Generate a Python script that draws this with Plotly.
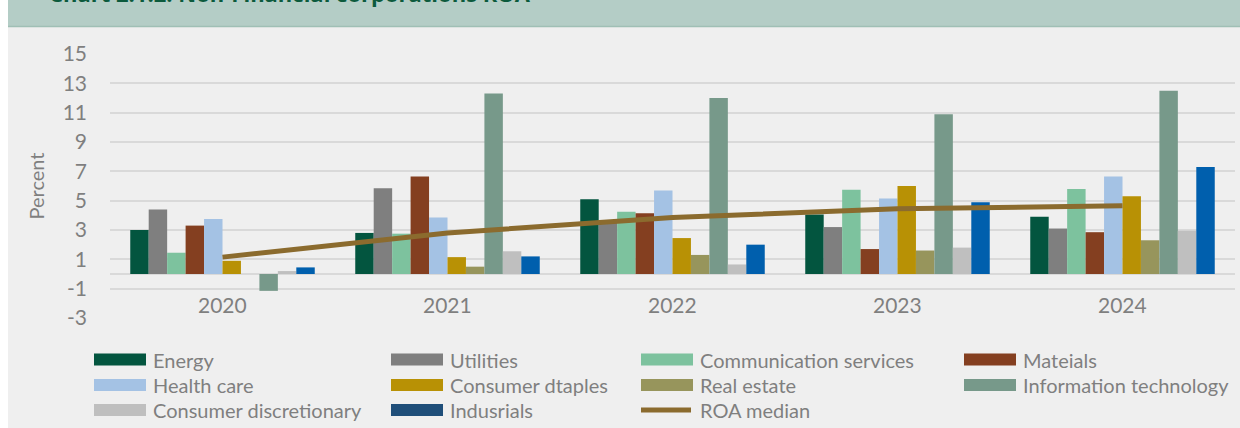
import plotly.graph_objects as go

# ---------------- data ----------------
years = ["2020", "2021", "2022", "2023", "2024"]
energy = [3.0, 2.8, 5.1, 4.05, 3.9]
utilities = [4.4, 5.85, 3.5, 3.2, 3.1]
communication_services = [1.45, 2.75, 4.25, 5.75, 5.8]
materials = [3.3, 6.65, 4.15, 1.7, 2.85]
health_care = [3.75, 3.85, 5.7, 5.15, 6.65]
consumer_staples = [0.9, 1.15, 2.45, 6.0, 5.3]
real_estate = [0.0, 0.5, 1.3, 1.6, 2.3]
information_technology = [-1.15, 12.3, 12.0, 10.9, 12.5]
consumer_discretionary = [0.2, 1.55, 0.65, 1.8, 2.95]
industrials = [0.45, 1.2, 2.0, 4.9, 7.3]
roa_median = [1.15, 2.8, 3.85, 4.45, 4.65]

series_names = ["Energy", "Utilities", "Communication services", "Mateials",
                "Health care", "Consumer dtaples", "Real estate",
                "Information technology", "Consumer discretionary", "Indusrials"]
legend_names = ["Energy", "Utilities", "Communication services", "Mateials",
                "Health care", "Consumer dtaples", "Real estate", "Information technology",
                "Consumer discretionary", "Indusrials", "ROA median"]
series_values = [energy, utilities, communication_services, materials, health_care,
                 consumer_staples, real_estate, information_technology,
                 consumer_discretionary, industrials]
y_tick_values = [-3, -1, 1, 3, 5, 7, 9, 11, 13, 15]
y_tick_labels = ["-3", "-1", "1", "3", "5", "7", "9", "11", "13", "15"]
category_label_level = -2.07

# ---------------- styles ----------------
bar_colors = ["#03553f", "#7f7f7f", "#7dc29e", "#843f20", "#a4c2e4",
              "#b89105", "#97955c", "#77998a", "#bfbfbf", "#005fad"]
legend_colors = ["#03553f", "#7f7f7f", "#7dc29e", "#843f20", "#a4c2e4",
                 "#b89105", "#97955c", "#77998a", "#bfbfbf", "#1f4e79", "#8b6b2e"]
line_color = "#8b6b2e"
bg = "#efefef"
grid = "#d9d9d9"
txt = "#7f7f7f"
FONT = "Lato"

W, H = 1240, 428
ML, MR, MT, MB = 110, 5, 54, 110
PW, PH = W - ML - MR, H - MT - MB


def px_x(px):
    return (px - ML) / PW


def px_y(py):
    return (H - MB - py) / PH


fig = go.Figure()
for name, vals, col in zip(series_names, series_values, bar_colors):
    fig.add_trace(go.Bar(x=years, y=vals, name=name, marker_color=col,
                         marker_line_width=0, showlegend=False))
fig.add_trace(go.Scatter(x=years, y=roa_median, name="ROA median", mode="lines",
                         line=dict(color=line_color, width=5), showlegend=False))

shapes = []
annotations = []
# background panel and header band
shapes.append(dict(type="rect", xref="paper", yref="paper", x0=px_x(8), x1=px_x(W + 5),
                   y0=px_y(H + 5), y1=px_y(-5), fillcolor=bg, line_width=0, layer="below"))
shapes.append(dict(type="rect", xref="paper", yref="paper", x0=px_x(8), x1=px_x(W + 5),
                   y0=px_y(26), y1=px_y(-5), fillcolor="#b4cdc6", line_width=0, layer="below"))
shapes.append(dict(type="line", xref="paper", yref="paper", x0=px_x(8), x1=px_x(W + 5),
                   y0=px_y(26.5), y1=px_y(26.5), line=dict(color="#9fbfb5", width=1.5), layer="below"))
annotations.append(dict(text="<b>Chart 2.1.2: Non-Financial corporations ROA</b>",
                        xref="paper", yref="paper", x=px_x(47), y=px_y(10.5),
                        xanchor="left", yanchor="bottom", showarrow=False,
                        font=dict(family="Open Sans", size=22, color="#0b5a3c")))

# category labels sitting between the -1 and -3 gridlines (category index positions)
for idx, yr in enumerate(years):
    annotations.append(dict(text=yr, x=idx, y=category_label_level, xref="x", yref="y",
                            xanchor="center", yanchor="middle", showarrow=False,
                            font=dict(family=FONT, size=21, color=txt)))

# custom legend (4 columns x 3 rows)
col_x = [94, 391, 641, 964]
row_y = [359.5, 385, 410]
sw_w, sw_h = 52, 12
for i, (name, col) in enumerate(zip(legend_names, legend_colors)):
    r, c = divmod(i, 4)
    x0 = col_x[c]
    yc = row_y[r]
    if name == "ROA median":
        shapes.append(dict(type="line", xref="paper", yref="paper",
                           x0=px_x(x0), x1=px_x(x0 + 50), y0=px_y(yc), y1=px_y(yc),
                           line=dict(color=col, width=5)))
    else:
        shapes.append(dict(type="rect", xref="paper", yref="paper",
                           x0=px_x(x0), x1=px_x(x0 + sw_w),
                           y0=px_y(yc + sw_h / 2), y1=px_y(yc - sw_h / 2),
                           fillcolor=col, line_width=0))
    annotations.append(dict(text=name, xref="paper", yref="paper",
                            x=px_x(x0 + 57), y=px_y(yc), xanchor="left", yanchor="middle",
                            showarrow=False, font=dict(family=FONT, size=20, color=txt)))

fig.update_layout(
    width=W, height=H,
    margin=dict(l=ML, r=MR, t=MT, b=MB, pad=0),
    paper_bgcolor="white", plot_bgcolor=bg,
    barmode="group", bargap=0.18, bargroupgap=0,
    shapes=shapes, annotations=annotations,
    font=dict(family=FONT, color=txt),
    showlegend=False,
)
fig.update_xaxes(type="category", range=[-0.5, len(years) - 0.5], showgrid=False,
                 zeroline=False, showline=False, ticks="", showticklabels=False)
fig.update_yaxes(range=[-3, 15], tickvals=y_tick_values, ticktext=y_tick_labels,
                 showgrid=True, gridcolor=grid,
                 gridwidth=1.5, zeroline=True, zerolinecolor=grid, zerolinewidth=1.5,
                 showline=False, ticks="", ticklabelstandoff=22,
                 tickfont=dict(family=FONT, size=21, color=txt),
                 title=dict(text="Percent", standoff=12,
                            font=dict(family=FONT, size=20, color=txt)))

fig.write_html("out.html", config={"displayModeBar": False},
               post_script="document.body.style.margin='0';")
